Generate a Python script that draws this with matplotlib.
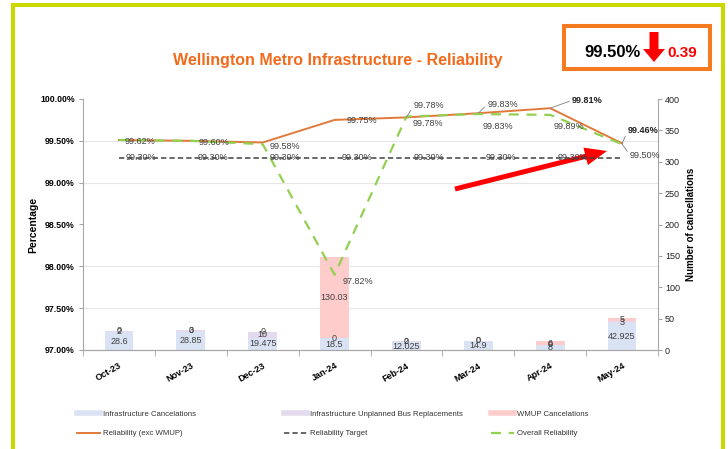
import matplotlib
matplotlib.use('Agg')
import matplotlib.pyplot as plt
import numpy as np
from matplotlib.lines import Line2D
from matplotlib.patches import Rectangle, FancyArrow
from matplotlib.transforms import Affine2D

plt.rcParams['font.family'] = ['Liberation Sans', 'DejaVu Sans']

# data
months = ['Oct-23', 'Nov-23', 'Dec-23', 'Jan-24', 'Feb-24', 'Mar-24', 'Apr-24', 'May-24']
infra_canc = [28.6, 28.85, 19.475, 18.5, 12.025, 14.9, 8, 42.925]
infra_bus = [2, 3, 10, 0, 2, 0, 0, 3]
wmup_canc = [0, 0, 0, 130.03, 0, 0, 6, 5]
rel_exc_wmup = [99.51, 99.50, 99.48, 99.75, 99.78, 99.83, 99.89, 99.47]
overall_rel = [99.51, 99.50, 99.46, 97.90, 99.79, 99.82, 99.81, 99.46]
target = [99.30] * 8
rel_labels = ['99.62%', '99.60%', '99.58%', '99.75%', '99.78%', '99.83%', '99.81%', '99.46%']
overall_labels = ['', '', '', '97.82%', '99.78%', '99.83%', '99.89%', '99.50%']
target_labels = ['99.30%'] * 7 + ['']
current_value = '99.50%'
change_value = '0.39'

c_infra = '#DAE3F3'
c_bus = '#E4DAEE'
c_wmup = '#FFCCCC'
c_rel = '#E07A3C'
c_overall = '#92D050'
c_target = '#404040'
c_lab = '#404040'

W, H = 728, 449
fig = plt.figure(figsize=(W / 100, H / 100), dpi=100)
pix = Affine2D().scale(1 / W, -1 / H).translate(0, 1) + fig.transFigure

ax2 = fig.add_axes([83 / W, 1 - 350 / H, 575 / W, 251 / H])
ax = ax2.twinx()
ax.yaxis.set_label_position('left')
ax.yaxis.tick_left()
ax2.yaxis.set_label_position('right')
ax2.yaxis.tick_right()
ax.set_zorder(ax2.get_zorder() + 1)
ax.patch.set_visible(False)

x = np.arange(len(months))

# bars (right axis)
bot2 = np.array(infra_canc)
bot3 = bot2 + np.array(infra_bus)
b1 = ax2.bar(x, infra_canc, width=0.4, color=c_infra, zorder=2)
b2 = ax2.bar(x, infra_bus, width=0.4, bottom=bot2, color=c_bus, zorder=2)
b3 = ax2.bar(x, wmup_canc, width=0.4, bottom=bot3, color=c_wmup, zorder=2)
for b in (b1, b2, b3):
    ax2.bar_label(b, fmt='%g', label_type='center', fontsize=6.5, color=c_lab)
ax2.set_ylim(0, 400)
ax2.set_yticks(np.arange(0, 401, 50))
ax2.set_yticks(np.linspace(0, 400, 7), minor=True)
ax2.grid(which='minor', axis='y', color='#E6E6E6', lw=0.8)
ax2.set_axisbelow(True)
ax2.tick_params(axis='y', which='major', labelsize=6.5, length=3, pad=2, color='#A6A6A6', labelcolor='#222222')
ax2.tick_params(axis='y', which='minor', length=0)
ax2.set_ylabel('Number of cancellations', fontsize=7, fontweight='bold', labelpad=4)

# lines (left axis)
ax.plot(x, rel_exc_wmup, color=c_rel, lw=1.4, zorder=3)
ax.plot(x, target, color=c_target, lw=1.1, ls=(0, (3.5, 2)), zorder=3)
ax.plot(x, overall_rel, color=c_overall, lw=1.6, ls=(0, (4.5, 3.5)), zorder=4)
ax.set_ylim(97, 100)
ax.set_xlim(-0.5, 7.5)
ax.set_yticks(np.arange(97, 100.01, 0.5))
ax.set_yticklabels(['%.2f%%' % v for v in np.arange(97, 100.01, 0.5)])
ax.tick_params(axis='y', labelsize=6.3, length=3, pad=3, color='#A6A6A6')
for t in ax.get_yticklabels():
    t.set_fontweight('bold')
ax.set_ylabel('Percentage', fontsize=7.5, fontweight='bold')
ax.yaxis.set_label_coords(-0.078, 0.5)

ax2.set_xticks(x)
ax2.set_xticklabels(months, rotation=30, ha='right', va='top', rotation_mode='anchor',
                    fontsize=6.5, fontweight='bold')
ax2.set_xticks(np.arange(-0.5, 8, 1), minor=True)
ax2.tick_params(axis='x', which='major', length=0, pad=8)
ax2.tick_params(axis='x', which='minor', length=4, color='#A6A6A6')
ax.tick_params(axis='x', which='both', bottom=False, labelbottom=False)

for a in (ax, ax2):
    for s in a.spines.values():
        s.set_color('#A6A6A6')
        s.set_linewidth(0.8)
    a.spines['top'].set_visible(False)
ax.spines['right'].set_visible(False)
ax2.spines['left'].set_visible(False)


def lab(i, v, text, dx, dy, bold=False, leader=False):
    if not text:
        return
    kw = {}
    if leader:
        kw['arrowprops'] = dict(arrowstyle='-', color='#7F7F7F', lw=0.6,
                                shrinkA=0, shrinkB=0, relpos=(0, 0.5))
    ax.annotate(text, (i, v), xytext=(dx * 0.72, dy * 0.72), textcoords='offset points',
                ha='left', va='center', fontsize=6.5, color='#202020' if bold else c_lab,
                fontweight='bold' if bold else 'normal', zorder=6, **kw)


# label offsets in pixels (dx, dy up)
rel_off = [(6, -2, 0, 0), (8, -2, 0, 0), (7, -3.5, 0, 0), (12, -1, 0, 0),
           (7, 11.5, 0, 1), (9, 9, 0, 1), (22, 8, 1, 1), (6, 13, 1, 1)]
ov_off = [(0, 0, 0, 0)] * 3 + [(8.5, -7.3, 0, 0), (6.5, -7.4, 0, 0), (4, -12, 0, 0),
                               (3, -12, 0, 0), (8, -11, 0, 1)]
for i in range(len(months)):
    dx, dy, bd, ld = rel_off[i]
    lab(i, rel_exc_wmup[i], rel_labels[i], dx, dy, bd, ld)
    dx, dy, bd, ld = ov_off[i]
    lab(i, overall_rel[i], overall_labels[i], dx, dy, bd, ld)
    lab(i, target[i], target_labels[i], 7, 0)

# title
fig.text(338, 65, 'Wellington Metro Infrastructure - Reliability', transform=pix,
         ha='center', va='baseline', fontsize=11.5, fontweight='bold', color='#F26A1B')

# summary box
fig.add_artist(Rectangle((564, 26), 146, 43, transform=pix, fill=False,
                         edgecolor='#F47B20', lw=2.9))
fig.text(584, 57, current_value, transform=pix, ha='left', va='baseline', fontsize=12,
         fontweight='bold', color='black')
fig.text(667, 57, change_value, transform=pix, ha='left', va='baseline', fontsize=11,
         fontweight='bold', color='#FF0000')
fig.add_artist(FancyArrow(654, 32, 0, 30, width=9, head_width=22, head_length=13,
                          length_includes_head=True, transform=pix, color='#FF0000', lw=0))

# big red arrow
fig.add_artist(FancyArrow(455, 189, 152, -38, width=5, head_width=18, head_length=22,
                          length_includes_head=True, transform=pix, color='#FF0000', lw=0))

# outer border
bc = '#CBD900'
fig.add_artist(Line2D([13, 13], [4.5, 449], transform=pix, color=bc, lw=2.9))
fig.add_artist(Line2D([13, 722.5], [4.5, 4.5], transform=pix, color=bc, lw=2.9))
fig.add_artist(Line2D([722.5, 722.5], [4.5, 449], transform=pix, color=bc, lw=2.9))

# legend in three columns
h_infra = Line2D([], [], color=c_infra, lw=4)
h_bus = Line2D([], [], color=c_bus, lw=4)
h_wmup = Line2D([], [], color=c_wmup, lw=4)
h_rel = Line2D([], [], color=c_rel, lw=1.4)
h_tgt = Line2D([], [], color=c_target, lw=1.1, ls=(0, (3.5, 2)))
h_ov = Line2D([], [], color=c_overall, lw=1.6, ls=(0, (4.5, 3.5)))
cols = [((h_infra, h_rel), ('Infrastructure Cancelations', 'Reliability (exc WMUP)'), 77),
        ((h_bus, h_tgt), ('Infrastructure Unplanned Bus Replacements', 'Reliability Target'), 284),
        ((h_wmup, h_ov), ('WMUP Cancelations', 'Overall Reliability'), 491)]
for hs, ls, lx in cols:
    fig.legend(hs, ls, loc='center left', bbox_to_anchor=(lx, 424), bbox_transform=pix,
               frameon=False, fontsize=5.6, handlelength=3, handletextpad=0.4,
               labelspacing=1.5, borderpad=0, borderaxespad=0, labelcolor='#333333')

fig.savefig('out.png', dpi=100)
